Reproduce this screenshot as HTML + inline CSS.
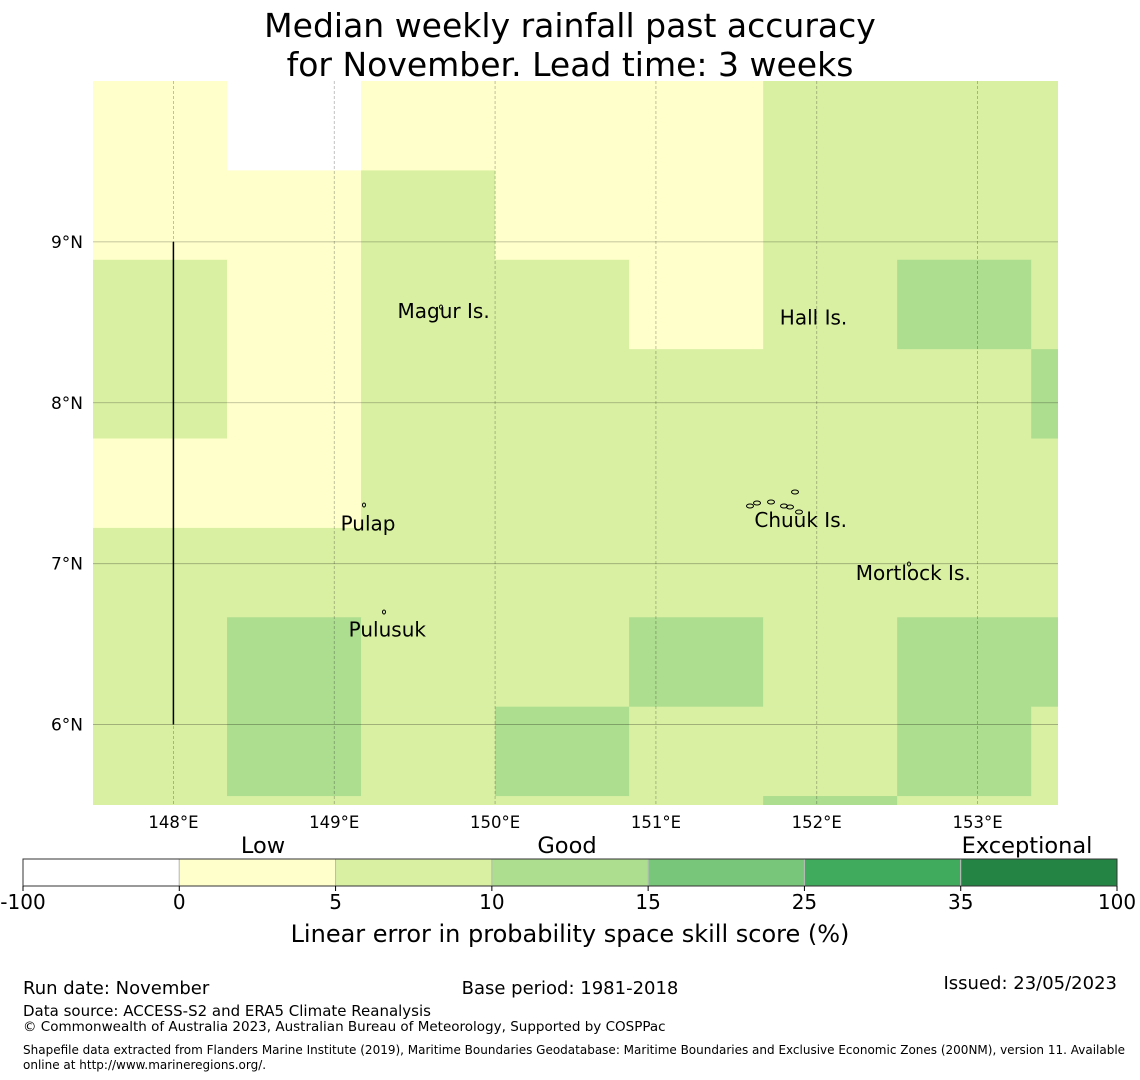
<!DOCTYPE html>
<html><head><meta charset="utf-8"><style>
body{margin:0;background:#fff;}
svg{display:block;font-family:"DejaVu Sans","Liberation Sans",sans-serif;}
</style></head><body>
<svg id="chart" width="1140" height="1080" viewBox="0 0 1140 1080">
<text x="570" y="37" font-size="33" text-anchor="middle">Median weekly rainfall past accuracy</text>
<text x="570" y="76" font-size="33" text-anchor="middle">for November. Lead time: 3 weeks</text>
<g id="map"></g>
<g id="cbar"></g>
<text x="23" y="994" font-size="18">Run date: November</text>
<text x="570" y="994" font-size="18" text-anchor="middle">Base period: 1981-2018</text>
<text x="1117" y="989" font-size="18" text-anchor="end">Issued: 23/05/2023</text>
<text x="23" y="1016" font-size="15">Data source: ACCESS-S2 and ERA5 Climate Reanalysis</text>
<text x="23" y="1031" font-size="13.5">© Commonwealth of Australia 2023, Australian Bureau of Meteorology, Supported by COSPPac</text>
<text x="23" y="1054" font-size="12">Shapefile data extracted from Flanders Marine Institute (2019), Maritime Boundaries Geodatabase: Maritime Boundaries and Exclusive Economic Zones (200NM), version 11. Available</text>
<text x="23" y="1069" font-size="12">online at http://www.marineregions.org/.</text>
</svg>
<script>
// Data
const lonTicks = [148,149,150,151,152,153];
const latTicks = [9,8,7,6];
const bounds = [-100,0,5,10,15,25,35,100];
const binColors = ['#ffffff','#ffffcc','#d9f0a3','#addd8e','#78c679','#41ab5d','#238443'];
const binLabels = ['Low','Good','Exceptional'];
// cell skill values, rows top(north) to bottom, columns west to east
const cellRow0 = [3,-5,3,3,3,7,7,7];
const cellRow1 = [3,3,7,3,3,7,7,7];
const cellRow2 = [7,3,7,7,3,7,12,7];
const cellRow3 = [7,3,7,7,7,7,7,12];
const cellRow4 = [3,3,7,7,7,7,7,7];
const cellRow5 = [7,7,7,7,7,7,7,7];
const cellRow6 = [7,12,7,7,12,7,12,12];
const cellRow7 = [7,12,7,12,7,7,12,7];
const cellRow8 = [7,7,7,7,7,12,7,7];
const cells=[cellRow0,cellRow1,cellRow2,cellRow3,cellRow4,cellRow5,cellRow6,cellRow7,cellRow8];
const islandNames = ['Magur Is.','Hall Is.','Pulap','Chuuk Is.','Mortlock Is.','Pulusuk'];
const islandLon = [149.68,151.98,149.21,151.9,152.6,149.33];
const islandLat = [8.54,8.5,7.22,7.24,6.91,6.56];

const NS='http://www.w3.org/2000/svg';
const X0=93,X1=1058,Y0=81,Y1=805, LON0=147.5,LON1=153.5,LAT0=10.0,LAT1=5.5;
const xs=l=>X0+(l-LON0)/(LON1-LON0)*(X1-X0);
const ys=l=>Y0+(LAT0-l)/(LAT0-LAT1)*(Y1-Y0);
const cellW=5/6, cellH=5/9, gridLon0=147.5, gridLat0=10.0;
function mk(tag,attrs,parent){const e=document.createElementNS(NS,tag);for(const k in attrs)e.setAttribute(k,attrs[k]);parent.appendChild(e);return e;}
function colorFor(v){for(let i=0;i<bounds.length-1;i++){if(v<bounds[i+1])return binColors[i];}return binColors[binColors.length-1];}
const map=document.getElementById('map');
const clip=mk('clipPath',{id:'mc'},map);mk('rect',{x:X0,y:Y0,width:X1-X0,height:Y1-Y0},clip);
const cg=mk('g',{'clip-path':'url(#mc)'},map);
cells.forEach((row,r)=>row.forEach((v,c)=>{
  const lx=gridLon0+c*cellW, ly=gridLat0-r*cellH;
  const x=xs(lx), y=ys(ly), w=xs(Math.min(lx+cellW,LON1))-x, h=ys(Math.max(ly-cellH,LAT1))-y;
  const e=mk('rect',{x:x,y:y,width:w+0.5,height:h+0.5,fill:colorFor(v)},cg);
  
  
}));
lonTicks.forEach(l=>{
  const e=mk('line',{x1:xs(l),x2:xs(l),y1:Y0,y2:Y1,stroke:'#000','stroke-opacity':0.3,'stroke-width':0.8,'stroke-dasharray':'3,2'},map);
  
  
  const t=mk('text',{x:xs(l),y:828,'font-size':16.5,'text-anchor':'middle'},map);t.textContent=l+'°E';
  
  
});
latTicks.forEach(l=>{
  const e=mk('line',{x1:X0,x2:X1,y1:ys(l),y2:ys(l),stroke:'#000','stroke-opacity':0.3,'stroke-width':0.8},map);
  
  
  const t=mk('text',{x:83,y:ys(l)+6,'font-size':17,'text-anchor':'end'},map);t.textContent=l+'°N';
  
  
});
const bl=mk('line',{x1:xs(148),x2:xs(148),y1:ys(9),y2:ys(6),stroke:'#000','stroke-width':1.5},map);


islandNames.forEach((n,i)=>{
  const x=xs(islandLon[i]), y=ys(islandLat[i]);
  const t=mk('text',{x:x,y:y+2,'font-size':20,'text-anchor':'middle'},map);t.textContent=n;
  
  
});
// small island outlines
[[441,307],[364,505],[384,612],[909,564],[750,506],[757,503],[771,502],[784,506],[795,492],[790,507],[799,512]].forEach((p,i)=>{
  const e=mk('ellipse',{cx:p[0],cy:p[1],rx:i>3?3.5:1.5,ry:2,fill:'none',stroke:'#000','stroke-width':1},map);
  
  
});
// colorbar
const cb=document.getElementById('cbar'), CX0=23,CX1=1117,CY=859,CH=27;
const segW=(CX1-CX0)/binColors.length;
binColors.forEach((c,i)=>{
  const e=mk('rect',{x:CX0+i*segW,y:CY,width:segW,height:CH,fill:c,stroke:'#bbb','stroke-width':1},cb);
  
  
});
mk('rect',{x:CX0,y:CY,width:CX1-CX0,height:CH,fill:'none',stroke:'#333','stroke-width':1},cb);
bounds.forEach((b,i)=>{
  const x=CX0+i*segW;
  mk('line',{x1:x,x2:x,y1:CY+CH,y2:CY+CH+5,stroke:'#000'},cb);
  const t=mk('text',{x:x,y:909,'font-size':20,'text-anchor':'middle'},cb);t.textContent=b;
  
  
});
const lblPos=[263,567,1027];
binLabels.forEach((s,i)=>{
  const t=mk('text',{x:lblPos[i],y:853,'font-size':22.5,'text-anchor':'middle'},cb);t.textContent=s;
  
  
});
const ct=mk('text',{x:570,y:942,'font-size':24,'text-anchor':'middle'},cb);ct.textContent='Linear error in probability space skill score (%)';


</script>
</body></html>
